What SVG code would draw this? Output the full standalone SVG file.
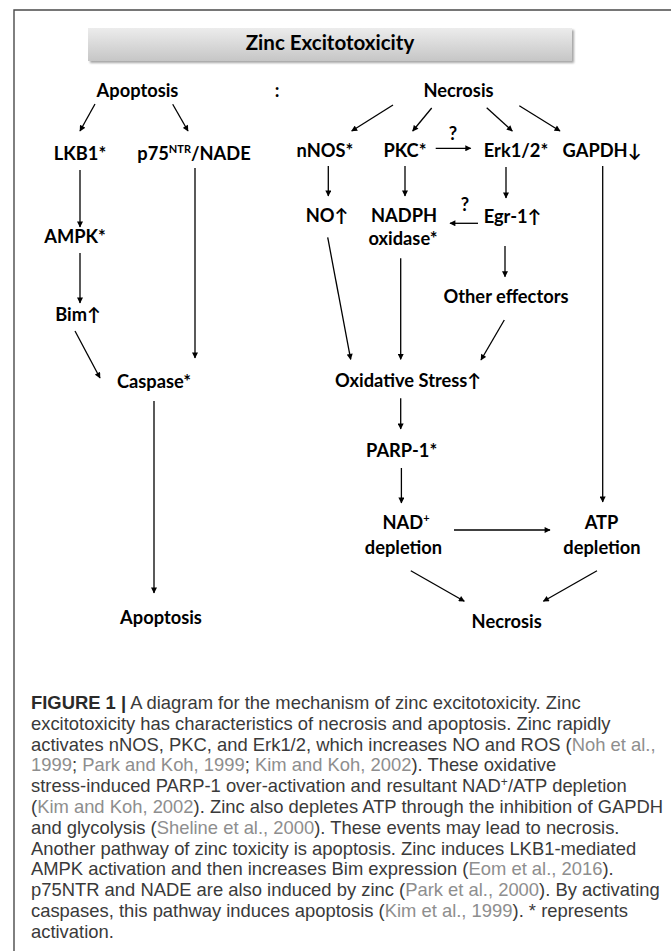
<svg xmlns="http://www.w3.org/2000/svg" width="671" height="951" viewBox="0 0 671 951">
<style>
.lbl{font-family:Lato,"Open Sans","DejaVu Sans",sans-serif;font-weight:700;font-size:18.3px;fill:#000;text-anchor:middle}
.sup{font-size:11px}
.cap{font-family:"Liberation Sans",Arial,sans-serif;font-size:18.4px;fill:#3a3a3a}
.ref{fill:#8e8e8e}
.b{font-weight:700;fill:#2a2a2a}
.con line{stroke:#000;stroke-width:1.3;marker-end:url(#ah)}
</style>
<defs>
<marker id="ah" viewBox="0 0 10 10" refX="9" refY="5" markerWidth="7" markerHeight="6" markerUnits="userSpaceOnUse" orient="auto"><path d="M0,0 L10,5 L0,10 z" fill="#000"/></marker>
<linearGradient id="tg" x1="0" y1="0" x2="0" y2="1"><stop offset="0" stop-color="#ececec"/><stop offset="1" stop-color="#c6c6c6"/></linearGradient>
<filter id="sh" x="-5%" y="-30%" width="110%" height="170%"><feDropShadow dx="2" dy="2" stdDeviation="1.2" flood-color="#000" flood-opacity="0.35"/></filter>
</defs>
<rect width="671" height="951" fill="#fff"/>
<path d="M14,951 V10 H671" fill="none" stroke="#4a4a4a" stroke-width="1.4"/>
<g id="title">
<rect x="88" y="28" width="484" height="33" fill="url(#tg)" filter="url(#sh)"/>
<text class="lbl" x="330" y="50" style="font-size:20.5px">Zinc Excitotoxicity</text>
</g>
<g id="apoptosis-top"><text class="lbl" x="137.5" y="97">Apoptosis</text></g>
<g id="colon"><text class="lbl" x="277" y="97">:</text></g>
<g id="necrosis-top"><text class="lbl" x="458.5" y="97">Necrosis</text></g>
<g id="lkb1"><text class="lbl" x="80" y="160">LKB1*</text></g>
<g id="p75"><text class="lbl" x="194" y="160">p75<tspan class="sup" dy="-7">NTR</tspan><tspan dy="7">/NADE</tspan></text></g>
<g id="ampk"><text class="lbl" x="75" y="243">AMPK*</text></g>
<g id="bim"><text class="lbl" x="78" y="321">Bim↑</text></g>
<g id="caspase"><text class="lbl" x="154" y="388">Caspase*</text></g>
<g id="apoptosis-bottom"><text class="lbl" x="161" y="624">Apoptosis</text></g>
<g id="nnos"><text class="lbl" x="325" y="157">nNOS*</text></g>
<g id="pkc"><text class="lbl" x="405" y="157">PKC*</text></g>
<g id="erk"><text class="lbl" x="516" y="157">Erk1/2*</text></g>
<g id="gapdh"><text class="lbl" x="602" y="157">GAPDH↓</text></g>
<g id="no"><text class="lbl" x="327" y="222">NO↑</text></g>
<g id="nadph"><text class="lbl" x="404" y="222">NADPH</text><text class="lbl" x="403" y="245">oxidase*</text></g>
<g id="egr"><text class="lbl" x="512.5" y="223">Egr-1↑</text></g>
<g id="other"><text class="lbl" x="506" y="303">Other effectors</text></g>
<g id="oxstress"><text class="lbl" x="408" y="387">Oxidative Stress↑</text></g>
<g id="parp"><text class="lbl" x="401.6" y="457">PARP-1*</text></g>
<g id="nad"><text class="lbl" x="406" y="529">NAD<tspan class="sup" dy="-7">+</tspan></text><text class="lbl" x="403.5" y="554">depletion</text></g>
<g id="atp"><text class="lbl" x="601.5" y="529">ATP</text><text class="lbl" x="602" y="554">depletion</text></g>
<g id="necrosis-bottom"><text class="lbl" x="506.7" y="628">Necrosis</text></g>
<g id="q-labels">
<text class="lbl" x="453" y="140">?</text>
<text class="lbl" x="465" y="211">?</text>
</g>
<g class="con" id="connectors">
<line x1="95" y1="104" x2="80" y2="131"/>
<line x1="172.7" y1="104.3" x2="188" y2="131"/>
<line x1="80" y1="170" x2="80" y2="227"/>
<line x1="80" y1="253" x2="80" y2="303"/>
<line x1="75" y1="331" x2="100" y2="378"/>
<line x1="195" y1="168" x2="195" y2="358"/>
<line x1="154" y1="401" x2="154" y2="593"/>
<line x1="393" y1="105" x2="351.7" y2="131"/>
<line x1="431.7" y1="108" x2="412.7" y2="131"/>
<line x1="486.7" y1="107.7" x2="512.3" y2="131"/>
<line x1="519.3" y1="105.7" x2="560" y2="131"/>
<line x1="435.7" y1="148.3" x2="470.7" y2="148.3"/>
<line x1="328.3" y1="166" x2="328.3" y2="196"/>
<line x1="405" y1="166" x2="405" y2="196"/>
<line x1="506" y1="167" x2="506" y2="198"/>
<line x1="478" y1="223.3" x2="450" y2="223.3"/>
<line x1="327.7" y1="237.3" x2="350.7" y2="359.3"/>
<line x1="400.7" y1="258.3" x2="400.7" y2="359.3"/>
<line x1="505" y1="246" x2="505" y2="276.7"/>
<line x1="504.3" y1="320" x2="481" y2="360"/>
<line x1="400.7" y1="398.3" x2="400.7" y2="429"/>
<line x1="401.4" y1="468" x2="401.4" y2="503"/>
<line x1="602.7" y1="166" x2="602.7" y2="502"/>
<line x1="454" y1="530" x2="550" y2="530"/>
<line x1="410.8" y1="570.7" x2="464.3" y2="601.3"/>
<line x1="597" y1="570.7" x2="543.4" y2="601.3"/>
</g>
<g id="caption" class="cap">
<text x="31" y="709"><tspan class="b">FIGURE 1 |</tspan> A diagram for the mechanism of zinc excitotoxicity. Zinc</text>
<text x="31" y="729.8">excitotoxicity has characteristics of necrosis and apoptosis. Zinc rapidly</text>
<text x="31" y="750.6">activates nNOS, PKC, and Erk1/2, which increases NO and ROS (<tspan class="ref">Noh et al.,</tspan></text>
<text x="31" y="771.4"><tspan class="ref">1999</tspan>; <tspan class="ref">Park and Koh, 1999</tspan>; <tspan class="ref">Kim and Koh, 2002</tspan>). These oxidative</text>
<text x="31" y="792.2">stress-induced PARP-1 over-activation and resultant NAD<tspan font-size="12" dy="-6">+</tspan><tspan dy="6">/ATP depletion</tspan></text>
<text x="31" y="813">(<tspan class="ref">Kim and Koh, 2002</tspan>). Zinc also depletes ATP through the inhibition of GAPDH</text>
<text x="31" y="833.8">and glycolysis (<tspan class="ref">Sheline et al., 2000</tspan>). These events may lead to necrosis.</text>
<text x="31" y="854.6">Another pathway of zinc toxicity is apoptosis. Zinc induces LKB1-mediated</text>
<text x="31" y="875.4">AMPK activation and then increases Bim expression (<tspan class="ref">Eom et al., 2016</tspan>).</text>
<text x="31" y="896.2">p75NTR and NADE are also induced by zinc (<tspan class="ref">Park et al., 2000</tspan>). By activating</text>
<text x="31" y="917">caspases, this pathway induces apoptosis (<tspan class="ref">Kim et al., 1999</tspan>). * represents</text>
<text x="31" y="937.8">activation.</text>
</g>
</svg>
